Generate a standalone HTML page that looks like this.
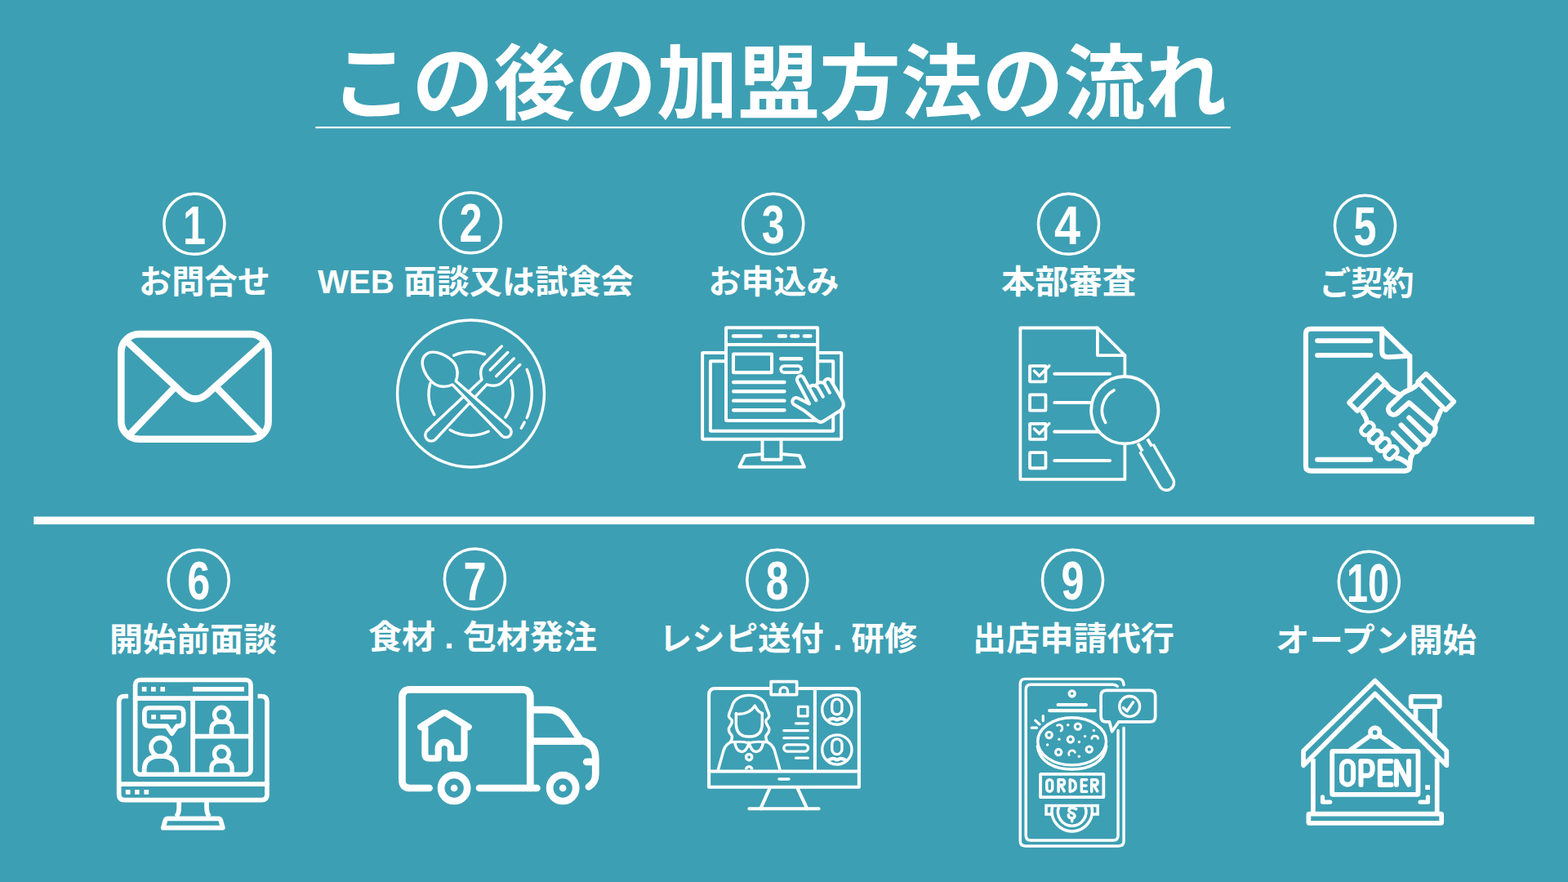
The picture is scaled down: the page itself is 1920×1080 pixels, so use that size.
<!DOCTYPE html>
<html lang="ja">
<head>
<meta charset="utf-8">
<title>この後の加盟方法の流れ</title>
<style>
html,body{margin:0;padding:0;background:#3d9fb3;}
body{width:1920px;height:1080px;overflow:hidden;font-family:"Liberation Sans",sans-serif;}
svg{display:block;position:absolute;left:0;top:0;}
.t{fill:#fff;}
.i{fill:none;stroke:#fff;stroke-linecap:round;stroke-linejoin:round;}
.b{fill:#3d9fb3;}
.w{fill:#fff;stroke:none;}
.ttl{font-family:"Liberation Sans","Noto Sans CJK JP",sans-serif;font-weight:700;font-size:100px;text-anchor:middle;}
.lb{font-family:"Liberation Sans","Noto Sans CJK JP",sans-serif;font-weight:700;font-size:40px;text-anchor:middle;}
.nm{font-family:"Liberation Sans",sans-serif;font-weight:700;font-size:66px;text-anchor:middle;}
.cn{fill:none;stroke:#fff;stroke-width:3.5;}
</style>
</head>
<body>
<svg width="1920" height="1080" viewBox="0 0 1920 1080">
<rect width="1920" height="1080" fill="#3d9fb3"/>
<g class="t">
<text class="ttl" x="953.5" y="138" textLength="1097" lengthAdjust="spacingAndGlyphs">この後の加盟方法の流れ</text>
<rect x="386.4" y="155" width="1120.4" height="2.2"/>
<rect x="41.3" y="632.6" width="1837.4" height="9.5"/>
<circle class="cn" cx="237.9" cy="274.3" r="37.05"/>
<text class="nm" x="237.9" y="298.6" textLength="28" lengthAdjust="spacingAndGlyphs">1</text>
<circle class="cn" cx="576.4" cy="272.7" r="37.05"/>
<text class="nm" x="576.4" y="296.1" textLength="28" lengthAdjust="spacingAndGlyphs">2</text>
<circle class="cn" cx="946.7" cy="274.3" r="37.05"/>
<text class="nm" x="946.7" y="298.1" textLength="28" lengthAdjust="spacingAndGlyphs">3</text>
<circle class="cn" cx="1308.5" cy="274.3" r="37.05"/>
<text class="nm" x="1307" y="298.6" textLength="32" lengthAdjust="spacingAndGlyphs">4</text>
<circle class="cn" cx="1671.5" cy="276.3" r="37.05"/>
<text class="nm" x="1671.5" y="300.1" textLength="28" lengthAdjust="spacingAndGlyphs">5</text>
<circle class="cn" cx="243.2" cy="710.4" r="37.05"/>
<text class="nm" x="243.2" y="734.2" textLength="28" lengthAdjust="spacingAndGlyphs">6</text>
<circle class="cn" cx="581.4" cy="709" r="37.05"/>
<text class="nm" x="581.4" y="735.4" textLength="28" lengthAdjust="spacingAndGlyphs">7</text>
<circle class="cn" cx="951.8" cy="710.2" r="37.05"/>
<text class="nm" x="951.8" y="734" textLength="28" lengthAdjust="spacingAndGlyphs">8</text>
<circle class="cn" cx="1313.5" cy="710.2" r="37.05"/>
<text class="nm" x="1313.5" y="733.8" textLength="28" lengthAdjust="spacingAndGlyphs">9</text>
<circle class="cn" cx="1676.3" cy="712.3" r="37.05"/>
<text class="nm" x="1675" y="736.6" textLength="52" lengthAdjust="spacingAndGlyphs">10</text>
<text class="lb" x="250.5" y="359" textLength="161" lengthAdjust="spacingAndGlyphs">お問合せ</text>
<text class="lb" x="582.5" y="359" textLength="387" lengthAdjust="spacingAndGlyphs">WEB 面談又は試食会</text>
<text class="lb" x="947.5" y="359" textLength="160" lengthAdjust="spacingAndGlyphs">お申込み</text>
<text class="lb" x="1308.5" y="359" textLength="165" lengthAdjust="spacingAndGlyphs">本部審査</text>
<text class="lb" x="1673.5" y="361" textLength="116" lengthAdjust="spacingAndGlyphs">ご契約</text>
<text class="lb" x="236.5" y="797" textLength="205" lengthAdjust="spacingAndGlyphs">開始前面談</text>
<text class="lb" x="591" y="794" textLength="280" lengthAdjust="spacingAndGlyphs">食材 . 包材発注</text>
<text class="lb" x="965" y="796" textLength="316" lengthAdjust="spacingAndGlyphs">レシピ送付 . 研修</text>
<text class="lb" x="1314.5" y="796" textLength="247" lengthAdjust="spacingAndGlyphs">出店申請代行</text>
<text class="lb" x="1685" y="798" textLength="246" lengthAdjust="spacingAndGlyphs">オープン開始</text>
</g>
<g transform="translate(120,380) scale(0.203735)" class="i" stroke-width="42">
<rect x="139" y="143" width="885" height="631" rx="108" ry="108"/>
<path d="M172,185 L497,487 Q585,577 673,487 L1000,192" stroke-linecap="butt"/>
<path d="M182,755 L456,468 M988,746 L714,466" stroke-linecap="butt"/>
</g>

<g transform="translate(460,370) scale(0.203735)" class="i" stroke-width="17">
<circle cx="572" cy="550" r="441.5"/>
<!-- inner plate ring segments (r=251 @ 571,550) -->
<path d="M470,320 A251,251 0 0 1 655,313"/>
<path d="M327,490 A251,251 0 0 0 352,676"/>
<path d="M813,472 A251,251 0 0 1 780,692"/>
<path d="M447,768 A251,251 0 0 0 678,777"/>
<!-- outer right arc (r=368) -->
<path d="M909,405 A368,368 0 0 1 909,695"/>
<path d="M894,722 L875,757"/>
<!-- fork (drawn first, under spoon) -->
<g transform="translate(650,483) rotate(45)">
<path class="b" stroke="#fff" d="M-78,-230 L-78,-85 C-78,-40 -48,-18 -21,-4 L-36,447 A36,36 0 0 0 36,447 L21,-4 C48,-18 78,-40 78,-85 L78,-230"/>
<path d="M-26,-230 L-26,-80 M26,-230 L26,-80"/>
</g>
<!-- spoon -->
<g transform="translate(472,485) rotate(-46.5)">
<path class="b" stroke="#fff" d="M-15,0 C-45,-12 -88,-45 -88,-100 C-88,-170 -52,-241 0,-241 C52,-241 88,-170 88,-100 C88,-45 45,-12 15,0 L33,428 A33,33 0 0 1 -33,428 Z"/>
</g>
</g>

<g transform="translate(830,380) scale(0.203735)" class="i" stroke-width="22">
<!-- monitor -->
<rect x="147.75" y="254.75" width="835" height="519" rx="4" stroke-width="19.5"/>
<rect x="195.75" y="305.75" width="738" height="419.5" rx="2" stroke-width="19.5"/>
<!-- stand -->
<path d="M508,774 V897 H621 V774" stroke-width="19.5"/>
<path d="M508,864 L403,873 L370,941 H760 L731,873 L621,864" stroke-width="19.5"/>
<!-- browser window -->
<rect class="b" stroke="#fff" x="289.75" y="104.75" width="550.5" height="557.5" rx="3" stroke-width="19.5"/>
<path d="M291,206.3 H839" stroke-width="19.5"/>
<path d="M334,155 H498 M608,155 H648 M684,155 H722 M760,155 H797"/>
<rect x="333.6" y="262.7" width="231" height="111" rx="3" stroke-width="20"/>
<path d="M620,291 H742"/>
<rect x="619" y="334" width="123" height="40" rx="20" stroke-width="18"/>
<path d="M335,432 H640 M335,487 H640 M335,543 H640 M335,600 H640"/>
<!-- hand -->
</g>
<g class="i" stroke-width="4.1">
<path class="b" stroke="none" d="M976.4,466.7 A4.35,4.35 0 0 1 984.15,462.7 L990.3,474.4 Q993.5,470.8 997.8,471.9 Q1000,468 1004.5,468.2 Q1006.5,464.5 1010,466 A4.4,4.4 0 0 1 1017.2,465.6 L1030.6,488.4 Q1035.6,497 1029.5,502.2 L1008.3,515.8 Q1004.8,518 1001,515.6 L985.4,503.3 L972.9,495.8 A4.6,4.6 0 0 1 977.1,487.5 L985.6,491.7 Z"/>
<path d="M999.3,490.3 L984.15,462.7 A4.35,4.35 0 0 0 976.4,466.7 L991.0,494.4 L977.1,487.5 A4.6,4.6 0 0 0 972.9,495.8 L985.4,503.3 L1001,515.6 Q1004.8,518 1008.3,515.8 L1029.5,502.2 Q1035.6,497 1030.6,488.4 L1017.2,465.6 A4.4,4.4 0 0 0 1009.6,469.6 L1015.9,480.9"/>
<path d="M990.6,475 Q993.5,470.8 997.8,472.2 Q1000.2,473 1001.2,474.3 L1007.8,485.8"/>
<path d="M999.6,471.6 Q1001.2,468 1005,468.3 Q1008,468.5 1009.6,469.6"/>
</g>

<g transform="translate(1220,385) scale(0.203735)" class="i" stroke-width="18.5">
<!-- document -->
<path d="M144.2,81 H608 L772.5,246 V991 H144.2 Z"/>
<path d="M608,81 V246 H772.5"/>
<!-- checkboxes -->
<rect x="201.4" y="309.8" width="95.3" height="94" rx="2"/>
<rect x="201.4" y="483.2" width="95.3" height="94" rx="2"/>
<rect x="201.4" y="656.6" width="95.3" height="94" rx="2"/>
<rect x="201.4" y="830" width="95.3" height="94" rx="2"/>
<path stroke-width="17" d="M228,340 L258,370 L318,309 M228,687 L258,717 L318,656"/>
<!-- lines -->
<path stroke-width="20" d="M350,357 H682 M350,530 H600 M350,705 H640 M350,879 H682"/>
<!-- magnifier -->
<circle class="b" stroke="#fff" stroke-width="18.5" cx="772" cy="575" r="202"/>
<path stroke-width="18" d="M707,456 A138,138 0 0 0 656,650"/>
<path stroke-width="19" stroke-linecap="butt" d="M851,776 L878,822 M908,749 L935,793"/>
<path stroke-width="17" d="M866,832 L982,1033 A46,46 0 0 0 1062,987 L946,786"/>
</g>

<g transform="translate(1570,380) scale(0.203735)" class="i" stroke-width="30">
<!-- document -->
<path d="M600,112 H172 Q142,112 142,142 V935 Q142,965 172,965 H737 Q767,965 767,935 V276 L600,112 V245 Q600,283 640,281 L767,274"/>
<path d="M212,183 H532 M212,270 H532 M212,897 H532"/>
</g>
<g transform="translate(1640,445) scale(0.11574)" class="i" stroke-width="53">
<!-- clasped hands: silhouette fill -->
<path class="b" stroke="none" d="M498,222 C520,265 575,300 640,310 C700,300 770,275 815,232 L1072,501 L1008,648 L1012,709 L954,773 L938,824 L867,861 L845,907 L781,939 L755,997 L742,1075 L600,1000 L250,650 L290,610 C285,580 262,540 248,518 Z"/>
<!-- left arm edges -->
<path d="M498,222 C520,265 575,300 618,320"/>
<path d="M248,518 C262,540 288,580 290,612"/>
<!-- right arm top + thumb -->
<path class="b" stroke="#fff" d="M815,232 C770,280 710,280 668,318 L540,440 A55,55 0 0 0 610,530 L738,416 L995,642"/>
<!-- right outline scallops -->
<path d="M1072,501 C1058,530 1048,555 1040,574.5 C1030,600 1018,625 1008,648 Q1022,680 1012.6,708.8 Q1005,735 995.3,750.4 Q978,772 953.7,772.8 Q952,800 937.6,824 Q926,845 908.8,852.8 Q890,862 867.2,861.1 Q862,885 844.8,907.2 Q833,925 819.2,932.8 Q800,941 780.8,939.2 Q774,970 755.2,996.8 L742,1075"/>
<!-- finger bars -->
<path d="M737,575 L950,780 M654,652.5 L867,865 M571,737.6 L778,944"/>
<!-- knuckle pills -->
<g class="b" stroke="#fff" stroke-width="42">
<rect transform="translate(298,692) rotate(-45)" x="-75" y="-48" width="150" height="96" rx="44"/>
<rect transform="translate(381,776) rotate(-45)" x="-75" y="-48" width="150" height="96" rx="44"/>
<rect transform="translate(464,860) rotate(-45)" x="-75" y="-48" width="150" height="96" rx="44"/>
<rect transform="translate(548,945) rotate(-45)" x="-75" y="-48" width="150" height="96" rx="44"/>
</g>
<path d="M612,1000 C640,1005 690,1030 742,1075"/>
<!-- cuffs -->
<rect class="b" stroke="#fff" transform="translate(295,311) rotate(-45)" x="-210" y="-63" width="420" height="126" rx="6" stroke-width="49"/>
<rect class="b" stroke="#fff" transform="translate(1021,301) rotate(45)" x="-210" y="-63" width="420" height="126" rx="6" stroke-width="49"/>
</g>

<g transform="translate(120,815) scale(0.203735)" class="i" stroke-width="28">
<!-- monitor -->
<path d="M182,184 H160 Q126,184 126,218 V774 Q126,808 160,808 H982 Q1016,808 1016,774 V218 Q1016,184 982,184 H960" stroke-linecap="butt"/>
<path d="M126,712 H1016"/>
<path class="w" d="M166,746 h28 v28 h-28 z M221,746 h28 v28 h-28 z M277,746 h28 v28 h-28 z"/>
<!-- stand -->
<path d="M487,808 V850 Q487,890 470,908 M653,808 V850 Q653,890 670,908" stroke-linecap="butt"/>
<path d="M420,920 H722 Q735,920 738,932 L750,975 H392 L404,932 Q407,920 420,920 Z"/>
<!-- window -->
<rect x="224" y="86" width="694" height="568" rx="30"/>
<path d="M224,197 H918 M570,197 V654 M570,425 H918"/>
<path class="w" d="M264,128 h28 v28 h-28 z M319,128 h28 v28 h-28 z M375,128 h28 v28 h-28 z M570,128 h308 v28 h-308 z"/>
<!-- speech bubble -->
<path d="M310,254 H483 Q514,254 514,285 V333 Q514,364 483,364 H475 L444,408 L414,364 H310 Q279,364 279,333 V285 Q279,254 310,254 Z"/>
<path class="w" d="M320,295 h28 v28 h-28 z M375,295 h97 v28 h-97 z"/>
<!-- big person -->
<circle cx="375" cy="490" r="56"/>
<path d="M278,650 V625 Q278,544 375,544 Q472,544 472,625 V650" stroke-linecap="butt"/>
<!-- small persons -->
<circle cx="743" cy="295" r="43.5" stroke-width="26"/>
<path d="M682,418 V388 Q682,338 732,338 H756 Q806,338 806,388 V418" stroke-linecap="butt" stroke-width="26"/>
<circle cx="743" cy="530" r="43.5" stroke-width="26"/>
<path d="M682,650 V623 Q682,573 732,573 H756 Q806,573 806,623 V650" stroke-linecap="butt" stroke-width="26"/>
</g>

<g transform="translate(470,810) scale(0.185185)" class="i" stroke-width="47">
<!-- cargo box -->
<path d="M300,837 H173 Q121,837 121,785 V238 Q121,186 173,186 H916 Q968,186 968,238 V837"/>
<path d="M632,837 H1012"/>
<!-- cab -->
<path d="M968,319 H1085 Q1160,319 1205,380 L1303,522 Q1400,540 1400,640 V745 Q1400,800 1355,828"/>
<path d="M968,527 H1300"/>
<path d="M1397,664 H1340"/>
<!-- wheels -->
<circle cx="465" cy="837" r="86.5"/>
<circle cx="1183.5" cy="837" r="86.5"/>
<circle class="w" cx="465" cy="837" r="23"/>
<circle class="w" cx="1183.5" cy="837" r="23"/>
<!-- house logo -->
<path stroke-width="44" d="M244,433 L383,345 Q401,333 419,345 L560,433"/>
<path stroke-width="44" d="M272,440 V612 Q272,640 300,640 H360 V575 A41,41 0 0 1 442,575 V640 H505 Q532,640 532,612 V440"/>
</g>

<g transform="translate(840,810) scale(0.203735)" class="i" stroke-width="20">
<!-- monitor -->
<path d="M138,755 V200 Q138,162 176,162 H1002 Q1040,162 1040,200 V755 Z"/>
<path d="M138,660 H1040 M775,162 V660"/>
<path stroke-width="18" d="M560,707 H618"/>
<path d="M505,757 L448,885 M668,757 L728,885 M380,885 H798"/>
<!-- webcam -->
<rect class="b" stroke="#fff" stroke-width="18" x="511" y="121" width="155" height="78"/>
<path stroke-width="16" d="M565,192 V178 A23,23 0 0 1 611,178 V192" stroke-linecap="butt"/>
<!-- woman -->
<g stroke-width="17">
<path d="M378.7,203 C320,203 286,235 277,268 C270,295 257,305 257,328 C257,345 277,345 277,357 C277,385 257,385 257,410 C257,435 277,435 277,452 Q277,470 268,482"/>
<path d="M378.7,203 C437,203 471,235 480,268 C487,295 500,305 500,328 C500,345 480,345 480,357 C480,385 500,385 500,410 C500,435 480,435 480,452 Q480,470 489,482"/>
<path d="M301,312 V372 Q301,452 379,452 Q458,452 458,372 V312"/>
<path d="M301,316 Q380,322 414,266 Q428,298 458,312"/>
<path d="M193,652 L226,534 Q238,498 270,484 L293,483 Q300,540 337,543 Q366,540 378.7,487 Q392,540 420,543 Q457,540 464,483 L488,484 Q520,498 532,534 L565,652"/>
<path d="M296,484 Q340,478 378.7,490 Q418,478 462,484" stroke-width="15"/>
<circle cx="378.7" cy="574.5" r="17.7"/>
<path d="M361,649 A17.7,17.7 0 0 1 396.4,649" stroke-linecap="butt"/>
</g>
<!-- text column -->
<g stroke-width="16">
<rect x="675" y="272" width="56" height="56"/>
<path d="M660,372 H733 M588,415 H733 M588,460 H733 M660,580 H733"/>
<rect x="588" y="500" width="146" height="40" rx="20"/>
</g>
<!-- avatars -->
<g stroke-width="16.5">
<circle cx="907.4" cy="290" r="89"/>
<rect x="877.4" y="226.7" width="60" height="92" rx="30"/>
<path stroke-width="21" d="M858,352 Q880,338 896,346 Q907.4,354 919,346 Q935,338 957,352"/>
<circle cx="907.4" cy="530" r="89"/>
<rect x="877.4" y="466" width="60" height="92" rx="30"/>
<path stroke-width="21" d="M858,592 Q880,578 896,586 Q907.4,594 919,586 Q935,578 957,592"/>
</g>
</g>

<g transform="translate(1220,820) scale(0.203735)" class="i" stroke-width="17">
<!-- phone outer / inner -->
<path d="M766,350 V1030 Q766,1060 736,1060 H173.6 Q143.6,1060 143.6,1030 V85.8 Q143.6,55.8 173.6,55.8 H736 Q764,55.8 766,92"/>
<path d="M731.6,365 V996 Q731.6,1026 701.6,1026 H207.7 Q177.7,1026 177.7,996 V119.9 Q177.7,89.9 207.7,89.9 H700 Q718,89.9 728,100"/>
<circle cx="455" cy="144" r="17"/>
<path stroke-width="20" d="M370.7,211 H540 M319.5,246 H592.6"/>
<!-- dish -->
<ellipse cx="454.6" cy="431" rx="206" ry="142.5"/>
<path d="M247.5,460 C258,553 348,599 454.6,599 C561,599 651,553 661.5,460"/>
<path stroke-width="16" d="M212,349.5 H243 M234.5,306 L260,328.5 M281,277.5 V308.5"/>
<g stroke-width="15">
<circle cx="317" cy="392.7" r="18"/><circle cx="490" cy="341.5" r="18"/><circle cx="445.8" cy="419.4" r="18"/><circle cx="373.7" cy="496" r="18"/><circle cx="558.3" cy="479" r="18"/>
<path stroke-width="14" d="M366,335 A17,17 0 0 1 388,368 M573,414 A20,20 0 0 1 612,414 M437,513 A19,19 0 0 1 473,497"/>
</g>
<g class="w"><circle cx="430.5" cy="332.4" r="8.5"/><circle cx="377.7" cy="418.2" r="8.5"/><circle cx="532.8" cy="400.6" r="8.5"/><circle cx="497.5" cy="434.7" r="8.5"/><circle cx="307.3" cy="451.7" r="8.5"/><circle cx="497.5" cy="521.6" r="8.5"/><circle cx="585.6" cy="365.4" r="8.5"/></g>
<!-- bubble -->
<path class="b" stroke="#fff" stroke-width="18" d="M661.7,124.4 H922.5 Q955.5,124.4 955.5,157.4 V280.8 Q955.5,313.8 922.5,313.8 H735 L695,372 L680,313.8 H661.7 Q628.7,313.8 628.7,280.8 V157.4 Q628.7,124.4 661.7,124.4 Z"/>
<circle cx="801" cy="220.5" r="61" stroke-width="16.5"/>
<path d="M763,229 L785.6,249 L822.5,195"/>
</g>
<g transform="translate(1265,940) scale(0.083333)" class="i" stroke-width="42">
<!-- ORDER box -->
<rect x="108" y="95" width="928" height="338" rx="8" stroke-width="45"/>
<rect x="201" y="176" width="83" height="173" rx="41"/>
<path d="M373,350 V178 H425 Q462,178 462,217 Q462,256 425,256 H373 M408,262 L458,345"/>
<path d="M543,178 V350 Q628,340 628,264 Q628,188 543,178 Z"/>
<path d="M788,178 H712 V350 H788 M712,264 H780"/>
<path d="M860,350 V178 H912 Q949,178 949,217 Q949,256 912,256 H860 M895,262 L945,345"/>
<!-- coin slot -->
<path stroke-linejoin="miter" stroke-linecap="butt" d="M272,683 H192 V557 H950 V683 H870"/>
<path stroke-linecap="butt" d="M283,575 A296,296 0 1 0 861,575"/>
<path stroke-linecap="butt" d="M378,575 A207,207 0 1 0 766,575"/>
<path d="M632,608 Q575,578 535,600 Q505,640 560,662 Q625,685 608,725 Q585,758 532,732 Q515,715 520,692 M572,750 V790"/>
</g>

<g transform="translate(1570,815) scale(0.203735)" class="i" stroke-width="28">
<!-- roof -->
<path d="M127.8,600 V513 L558,91 L988.2,513 V600 L558,169.4 Z"/>
<!-- walls + base -->
<path d="M186,560 V885 M931,560 V885" stroke-linecap="butt"/>
<rect x="159" y="891" width="799" height="56" rx="4"/>
<!-- chimney -->
<rect x="774" y="185.4" width="171.7" height="60.6" rx="4"/>
<path d="M802.5,246 V322 M917.4,246 V438" stroke-linecap="butt"/>
<!-- corner marks -->
<path stroke-width="26" d="M243,790 V820 H288 M876,790 V820 H830"/>
<path class="w" d="M860,718 h28 v28 h-28 z"/>
</g>
<g transform="translate(1620,880) scale(0.097222)" class="i" stroke-width="60">
<!-- hanger -->
<path stroke-width="58" d="M585,222 L348,392 M725,222 L962,392"/>
<circle class="b" stroke="#fff" stroke-width="58" cx="655" cy="174" r="59"/>
<!-- sign -->
<rect x="115" y="410" width="1083" height="545" rx="10"/>
<!-- OPEN -->
<g stroke-width="62">
<rect x="236" y="536" width="145" height="295" rx="72"/>
<path d="M478,832 V536 H556 Q624,536 624,627 Q624,718 556,718 H478"/>
<path d="M858,536 H718 V832 H860 M718,688 H850"/>
<path d="M925,832 V536 L1080,832 V536"/>
</g>
</g>


</svg>
</body>
</html>
